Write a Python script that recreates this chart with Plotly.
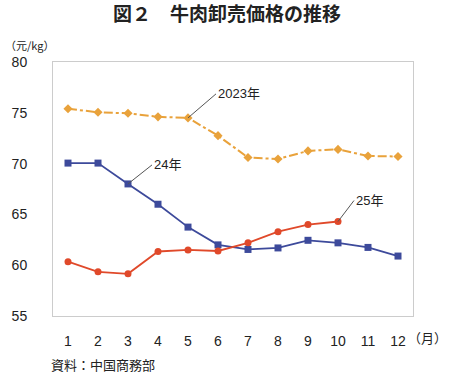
import plotly.graph_objects as go

months = list(range(1, 13))
tick_labels = [str(m) for m in months]
y2023 = [75.4, 75.05, 74.95, 74.6, 74.5, 72.75, 70.6, 70.45, 71.25, 71.4, 70.75, 70.7]
y2024 = [70.05, 70.05, 68.0, 66.0, 63.75, 62.0, 61.55, 61.7, 62.45, 62.2, 61.75, 60.9]
y2025 = [60.35, 59.35, 59.15, 61.35, 61.5, 61.4, 62.2, 63.3, 64.0, 64.3]
y_ticks = [55, 60, 65, 70, 75, 80]

C_OR = "#E9A23B"
C_BL = "#3D4A9B"
C_RD = "#E0492A"
FONT = "Liberation Sans, Arial, Noto Sans CJK JP"
JP = "Noto Sans CJK JP"

W, H = 450, 373
L, R, T, B = 50, 37, 62, 57
pw, ph = W - L - R, H - T - B
def px(xp): return (xp - L) / pw
def py(yp): return (H - B - yp) / ph

fig = go.Figure()
fig.add_trace(go.Scatter(x=months, y=y2023, mode="lines+markers",
                         line=dict(color=C_OR, width=2, dash="dashdot"),
                         marker=dict(symbol="diamond", size=7, color=C_OR)))
fig.add_trace(go.Scatter(x=months, y=y2024, mode="lines+markers",
                         line=dict(color=C_BL, width=1.8),
                         marker=dict(symbol="square", size=7, color=C_BL)))
fig.add_trace(go.Scatter(x=months[:len(y2025)], y=y2025, mode="lines+markers",
                         line=dict(color=C_RD, width=1.8),
                         marker=dict(symbol="circle", size=7, color=C_RD)))

ann_style = dict(showarrow=True, arrowhead=0, arrowwidth=1, arrowcolor="#555555",
                 xanchor="left", yanchor="middle",
                 font=dict(family=FONT, size=13, color="#222222"))
fig.add_annotation(x=5, y=y2023[4], text="2023年", ax=28, ay=-24, **ann_style)
fig.add_annotation(x=3, y=y2024[2], text="24年", ax=24, ay=-19, **ann_style)
fig.add_annotation(x=10, y=y2025[9], text="25年", ax=16, ay=-21, **ann_style)

paper = dict(xref="paper", yref="paper", showarrow=False, yanchor="middle")
fig.add_annotation(text="<b>図２　牛肉卸売価格の推移</b>", x=px(225), y=py(13),
                   xanchor="center", font=dict(family=JP, size=19, color="#222222"), **paper)
fig.add_annotation(text="（元/kg）", x=px(0), y=py(45), xanchor="left",
                   font=dict(family=JP, size=11, color="#222222"), **paper)
fig.add_annotation(text="（月）", x=px(449), y=py(337), xanchor="right",
                   font=dict(family=JP, size=13, color="#222222"), **paper)
fig.add_annotation(text="資料：中国商務部", x=px(46), y=py(364), xanchor="left",
                   font=dict(family=JP, size=13, color="#222222"), **paper)

fig.update_layout(
    width=W, height=H, margin=dict(l=L, r=R, t=T, b=B),
    paper_bgcolor="white", plot_bgcolor="white", showlegend=False,
    font=dict(family=FONT, size=14, color="#222222"),
)
fig.update_xaxes(range=[0.5, 12.5], tickvals=months, ticktext=tick_labels,
                 showgrid=False, zeroline=False, showline=True, mirror=True,
                 linecolor="#CCCCCC", linewidth=1, ticks="", ticklabelstandoff=12,
                 tickfont=dict(family=FONT, size=14))
fig.update_yaxes(range=[55, 80], tickvals=y_ticks, showgrid=False, zeroline=False,
                 showline=True, mirror=True, linecolor="#CCCCCC", linewidth=1,
                 ticks="", ticklabelstandoff=22, tickfont=dict(family=FONT, size=14))

fig.write_html("out.html", config={"displayModeBar": False},
               post_script="document.body.style.margin='0';document.body.style.overflow='hidden';")
